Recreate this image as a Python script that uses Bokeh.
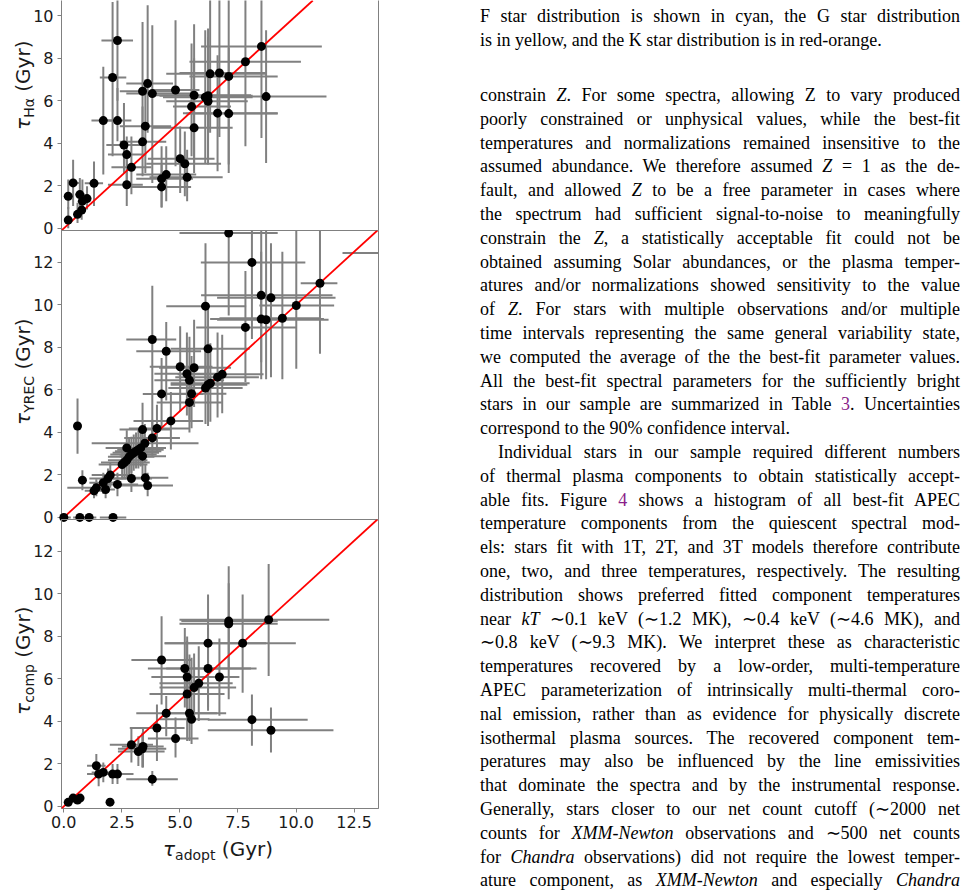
from bokeh.plotting import figure
from bokeh.models import (Range1d, FixedTicker, NumeralTickFormatter, Slope,
                          ColumnDataSource, LinearAxis, Div)
from bokeh.layouts import column, row
from bokeh.embed import file_html
from bokeh.resources import INLINE

# ---------------- data ----------------
# Panel 1: tau_Halpha vs tau_adopt
ha_x = [0.19, 0.19, 0.40, 0.59, 0.69, 0.77, 0.80, 1.00, 1.30, 1.70, 2.10, 2.31, 2.31, 2.59, 2.71, 2.71, 2.91,
        3.39, 3.39, 3.51, 3.61, 3.81, 4.21, 4.21, 4.41, 4.81, 5.01, 5.21, 5.31, 5.50, 5.61, 5.61, 6.09, 6.21,
        6.21, 6.30, 6.62, 6.70, 7.10, 7.10, 7.82, 8.51, 8.71]
ha_y = [0.39, 1.51, 2.14, 0.66, 1.59, 0.86, 1.28, 1.40, 2.12, 5.07, 7.10, 8.84, 5.07, 3.92, 3.47, 2.05, 2.87,
        4.07, 6.45, 4.81, 6.81, 6.34, 2.33, 1.95, 2.53, 6.51, 3.28, 3.04, 2.40, 5.73, 6.26, 4.73, 6.17, 6.24,
        5.98, 7.27, 5.42, 7.31, 7.15, 5.40, 7.84, 8.56, 6.20]
ha_xlo = [0.05, 0.05, 0.19, 0.45, 0.50, 0.60, 0.60, 0.85, 0.90, 1.19, 1.55, 1.62, 1.83, 1.83, 1.90, 1.90, 2.05,
          2.41, 2.41, 2.41, 2.69, 2.69, 3.12, 2.91, 3.12, 3.84, 3.62, 3.55, 3.69, 4.70, 3.84, 3.84, 4.27, 4.12,
          4.41, 4.41, 5.13, 4.98, 5.41, 5.27, 5.41, 5.91, 6.70]
ha_xhi = [0.33, 0.35, 0.69, 0.75, 0.90, 0.95, 1.00, 1.15, 1.69, 2.19, 2.69, 2.98, 2.91, 3.34, 3.55, 3.40, 3.77,
          4.41, 4.70, 4.62, 4.70, 5.48, 5.56, 5.48, 5.70, 5.84, 6.49, 6.77, 6.84, 7.20, 8.06, 7.27, 8.13, 8.13,
          7.92, 8.71, 9.21, 8.71, 9.21, 9.21, 10.21, 11.11, 11.31]
ha_ylo = [0.00, 0.90, 1.05, 0.25, 0.66, 0.40, 0.73, 0.89, 1.05, 2.53, 3.39, 6.00, 4.10, 2.60, 1.98, 1.05, 1.60,
          2.45, 3.90, 2.60, 4.50, 2.14, 0.97, 1.00, 1.28, 2.92, 1.67, 1.51, 1.28, 3.39, 3.00, 2.60, 3.08, 3.23,
          3.00, 4.50, 2.69, 4.30, 3.00, 2.60, 3.86, 4.25, 3.08]
ha_yhi = [1.00, 2.30, 3.23, 1.20, 2.37, 1.40, 2.30, 1.98, 3.15, 7.60, 10.65, 11.50, 6.60, 5.90, 4.32, 3.39, 4.32,
          5.73, 9.71, 7.00, 10.50, 9.55, 3.86, 3.00, 3.86, 9.79, 4.79, 4.56, 3.70, 8.70, 9.60, 8.00, 9.32, 9.40,
          9.00, 11.00, 8.15, 11.00, 11.00, 8.50, 11.00, 11.50, 9.32]

# Panel 2: tau_YREC vs tau_adopt
yr_x = [0.00, 0.69, 1.09, 2.12, 0.59, 0.80, 1.30, 1.40, 1.70, 1.80, 1.90, 2.00, 2.31, 2.51, 2.61, 2.71, 2.71,
        2.81, 2.91, 2.91, 3.01, 3.11, 3.21, 3.31, 3.39, 3.39, 3.49, 3.51, 3.61, 3.81, 3.81, 4.01, 4.21, 4.41,
        4.61, 5.01, 5.30, 5.41, 5.41, 5.50, 5.61, 6.10, 6.10, 6.21, 6.21, 6.31, 6.62, 6.82, 7.10, 7.82, 8.10,
        8.50, 8.50, 8.71, 8.92, 9.41, 10.01, 11.03, 14.20]
yr_y = [0.00, 0.00, 0.00, 0.00, 4.30, 1.75, 1.25, 1.39, 1.63, 1.31, 1.83, 1.99, 1.55, 2.49, 2.58, 3.27, 2.69,
        2.85, 2.96, 1.83, 3.04, 3.11, 3.18, 3.27, 2.88, 4.13, 3.49, 1.86, 1.50, 8.37, 3.74, 4.18, 5.81, 7.82,
        4.54, 7.09, 6.76, 6.45, 5.41, 5.82, 7.04, 9.94, 6.09, 7.93, 6.24, 6.31, 6.60, 6.73, 13.38, 8.94, 12.00,
        10.45, 9.33, 9.30, 10.33, 9.37, 9.97, 11.02, 12.44]
yr_xlo = [-0.05, 0.40, 0.80, 1.55, 0.59, 0.70, 0.90, 0.15, 1.10, 1.20, 1.10, 1.20, 1.50, 1.50, 1.60, 1.80, 1.90,
          1.90, 2.00, 2.10, 2.10, 2.20, 2.30, 2.40, 2.40, 2.40, 1.20, 2.50, 2.30, 2.69, 2.60, 2.80, 3.40, 3.12,
          3.00, 3.70, 3.90, 3.90, 4.00, 4.10, 4.10, 4.41, 4.50, 4.60, 4.60, 4.60, 4.80, 4.90, 4.98, 5.70, 5.90,
          5.91, 6.30, 6.60, 6.60, 6.70, 8.42, 10.20, 12.00]
yr_xhi = [0.30, 1.00, 1.40, 2.69, 0.59, 0.92, 1.75, 1.90, 2.30, 2.20, 2.70, 2.80, 3.20, 3.60, 3.70, 3.80, 3.60,
          3.90, 4.00, 3.80, 4.10, 4.20, 4.30, 4.40, 4.40, 4.60, 5.80, 4.50, 4.70, 4.84, 5.00, 5.40, 6.00, 5.91,
          6.00, 6.40, 6.80, 6.90, 6.80, 7.00, 7.20, 7.85, 7.70, 8.00, 7.90, 8.00, 8.40, 8.60, 9.21, 10.00, 10.40,
          11.57, 11.20, 11.40, 11.70, 11.00, 11.64, 11.78, 16.00]
yr_ylo = [0.00, 0.00, 0.00, 0.00, 3.00, 1.28, 0.90, 1.00, 1.10, 0.90, 1.30, 1.40, 1.00, 1.80, 1.90, 2.50, 1.90,
          2.00, 2.10, 1.20, 2.20, 2.30, 2.30, 2.40, 2.00, 3.30, 2.60, 1.30, 1.00, 3.55, 2.90, 3.10, 4.20, 5.50,
          3.20, 5.00, 4.80, 4.60, 4.00, 4.20, 5.20, 6.50, 4.40, 6.00, 4.30, 4.50, 4.70, 4.90, 9.50, 6.37, 8.40,
          7.30, 6.50, 6.50, 6.60, 6.50, 7.00, 7.70, 12.44]
yr_yhi = [0.00, 0.00, 0.00, 0.00, 5.59, 2.22, 1.60, 1.80, 2.10, 1.80, 2.30, 2.60, 2.10, 3.20, 3.40, 4.10, 3.50,
          3.70, 3.80, 2.50, 3.90, 4.00, 4.10, 4.20, 3.90, 5.40, 4.40, 2.50, 2.10, 10.90, 4.60, 5.30, 7.50, 9.19,
          5.90, 9.00, 8.70, 8.50, 7.00, 7.60, 9.30, 12.90, 8.00, 9.90, 8.20, 8.20, 8.70, 8.60, 15.00, 11.60, 14.00,
          14.00, 12.50, 13.60, 12.90, 12.50, 13.60, 14.00, 12.44]

# Panel 3: tau_comp vs tau_adopt
cp_x = [0.19, 0.40, 0.59, 0.70, 1.99, 1.40, 1.50, 1.70, 2.10, 2.31, 2.91, 3.21, 3.38, 3.41, 3.81, 4.01, 4.21,
        4.41, 4.81, 5.21, 5.31, 5.31, 5.41, 5.50, 5.61, 5.81, 6.21, 6.21, 6.70, 7.10, 7.10, 7.70, 8.10, 8.82, 8.92]
cp_y = [0.19, 0.39, 0.30, 0.39, 0.20, 1.91, 1.52, 1.60, 1.52, 1.52, 2.90, 2.58, 2.71, 2.82, 1.28, 3.69, 6.89,
        4.38, 3.19, 6.49, 6.09, 5.29, 4.38, 4.10, 5.59, 5.79, 7.68, 6.49, 6.09, 8.72, 8.59, 7.68, 4.08, 8.78, 3.58]
cp_xlo = [0.19, 0.40, 0.59, 0.70, 1.99, 1.00, 1.00, 1.20, 1.80, 1.55, 1.98, 2.33, 2.33, 2.50, 2.69, 2.84, 2.91,
          3.12, 3.62, 3.62, 3.77, 3.69, 4.20, 4.12, 4.12, 4.12, 4.34, 4.41, 4.70, 5.06, 4.98, 4.34, 6.20, 4.98, 6.20]
cp_xhi = [0.19, 0.40, 0.59, 0.70, 1.99, 1.80, 2.98, 2.20, 2.40, 3.00, 3.84, 4.34, 4.41, 4.30, 4.91, 5.20, 5.48,
          6.99, 5.80, 8.06, 7.49, 6.92, 6.60, 6.27, 7.42, 7.27, 8.71, 8.30, 7.56, 9.21, 9.21, 9.99, 10.50, 11.43, 11.61]
cp_ylo = [0.19, 0.39, 0.30, 0.39, 0.20, 1.36, 0.95, 1.13, 1.05, 1.05, 2.07, 1.90, 1.83, 1.83, 0.97, 2.14, 4.80,
          3.30, 2.30, 4.65, 4.40, 3.08, 3.08, 2.93, 4.00, 4.02, 4.65, 4.50, 4.26, 5.04, 6.50, 5.35, 2.85, 6.13, 2.54]
cp_yhi = [0.19, 0.39, 0.30, 0.39, 0.20, 2.46, 2.05, 2.07, 2.00, 2.00, 3.70, 3.30, 3.46, 3.70, 1.67, 4.80, 8.95,
          5.20, 4.18, 8.40, 7.80, 8.00, 7.15, 7.00, 7.20, 7.54, 9.97, 8.40, 7.90, 11.30, 10.50, 9.97, 5.27, 11.41, 4.65]

x_ticks = [0, 2.5, 5, 7.5, 10, 12.5]
y_ticks = [0, 2, 4, 6, 8, 10, 12]
y_label_subs = ["H\u03b1", "YREC", "comp"]
x_label_sub = "adopt"

# ---------------- layout constants ----------------
X_RANGE = (-0.1, 13.55)
Y_RANGE = (-0.1, 13.5)
Y_RANGE_TOP = (-0.1, 10.72)
FRAME_W = 317
LABEL_W = 36          # width of the html column holding the rotated y labels
PLOT_SHIFT = -6       # the (transparent) figures overlap the label column a little
LEFT = 29             # room for ticks + tick labels inside each figure
RIGHT = 102
OVER = 9              # overlap between stacked figures so that boundary "0" labels are not cut

SPINE = "#808080"
TICKTXT = "#1a1a1a"
FONT = "DejaVu Sans"


def panel(frame_h, xs, ys, xlo, xhi, ylo, yhi, yr, bottom_border, margin_top, first, show_x):
    p = figure(frame_width=FRAME_W, frame_height=frame_h,
               x_range=Range1d(*X_RANGE), y_range=Range1d(*yr),
               output_backend="svg", toolbar_location=None,
               min_border_left=LEFT, min_border_right=RIGHT,
               min_border_top=0, min_border_bottom=bottom_border,
               background_fill_color=None, border_fill_color=None,
               margin=(margin_top, 0, 0, 0))
    p.xgrid.visible = False
    p.ygrid.visible = False
    if first:
        p.outline_line_color = None
        ra = LinearAxis(ticker=FixedTicker(ticks=[]), major_tick_out=0, major_tick_in=0,
                        minor_tick_out=0, minor_tick_in=0, major_label_standoff=0,
                        axis_line_color=SPINE, axis_line_width=1)
        p.add_layout(ra, "right")
    else:
        p.outline_line_color = SPINE
        p.outline_line_width = 1

    src = ColumnDataSource(dict(x=xs, y=ys, xlo=xlo, xhi=xhi, ylo=ylo, yhi=yhi))
    p.segment(x0="x", y0="ylo", x1="x", y1="yhi", source=src, line_color="#808080", line_width=2)
    p.segment(x0="xlo", y0="y", x1="xhi", y1="y", source=src, line_color="#808080", line_width=2)
    p.add_layout(Slope(gradient=1, y_intercept=0, line_color="red", line_width=1.8))
    r = p.scatter("x", "y", source=src, size=9, fill_color="black", line_color=None)
    r.level = "overlay"

    ya = p.yaxis[0]
    ya.ticker = FixedTicker(ticks=y_ticks)
    ya.minor_tick_line_color = None
    ya.major_tick_out = 4
    ya.major_tick_in = 0
    ya.major_tick_line_color = SPINE
    ya.axis_line_color = SPINE
    ya.major_label_text_font = FONT
    ya.major_label_text_font_size = "16px"
    ya.major_label_text_color = TICKTXT
    ya.major_label_standoff = 4

    xa = p.xaxis[0]
    if show_x:
        xa.ticker = FixedTicker(ticks=x_ticks)
        xa.formatter = NumeralTickFormatter(format="0.0")
        xa.minor_tick_line_color = None
        xa.major_tick_out = 4
        xa.major_tick_in = 0
        xa.major_tick_line_color = SPINE
        xa.axis_line_color = SPINE
        xa.major_label_text_font = FONT
        xa.major_label_text_font_size = "16px"
        xa.major_label_text_color = TICKTXT
        xa.major_label_standoff = 3
    else:
        xa.visible = False
    return p


p1 = panel(230, ha_x, ha_y, ha_xlo, ha_xhi, ha_ylo, ha_yhi, Y_RANGE_TOP, OVER, 0, True, False)
p2 = panel(289, yr_x, yr_y, yr_xlo, yr_xhi, yr_ylo, yr_yhi, Y_RANGE, OVER, -OVER, False, False)
p3 = panel(289, cp_x, cp_y, cp_xlo, cp_xhi, cp_ylo, cp_yhi, Y_RANGE, 28, -OVER, False, True)

# ---------------- axis labels (tau with subscripts), as html text ----------------
LAB_FONT = "font-family:'DejaVu Sans';font-size:20px;line-height:24px;color:%s;white-space:nowrap;" % TICKTXT
BASE_OFF = 18.9   # baseline offset inside a 24px line box


def tau_label(sub):
    return ('<i>\u03c4</i><span style="font-size:14px;position:relative;top:3.5px;">%s</span> (Gyr)' % sub)


# baseline x and starting y (page pixels) of each rotated y label
ylab_base_x = 29.5
ylab_start_y = [130, 425, 715]
ylab_parts = []
for sub, sy in zip(y_label_subs, ylab_start_y):
    ylab_parts.append(
        '<div style="position:absolute;left:%.1fpx;top:%.1fpx;%stransform-origin:0px %.1fpx;'
        'transform:rotate(-90deg);">%s</div>' % (ylab_base_x, sy - BASE_OFF, LAB_FONT, BASE_OFF, tau_label(sub)))
ylab_div = Div(text='<div style="position:relative;width:%dpx;height:893px;">%s</div>'
               % (LABEL_W, "".join(ylab_parts)), width=LABEL_W, height=893, margin=0)

XLAB_TOP = 836        # page y where the x-label strip begins (below the last figure)
PLOTS_X0 = LABEL_W + PLOT_SHIFT
xlab_left = 163 - PLOTS_X0
xlab_base = 856 - XLAB_TOP
xlab_div = Div(text='<div style="position:relative;width:430px;height:%dpx;">'
               '<div style="position:absolute;left:%.1fpx;top:%.1fpx;%s">%s</div></div>'
               % (893 - XLAB_TOP, xlab_left, xlab_base - BASE_OFF, LAB_FONT, tau_label(x_label_sub)),
               width=430, height=893 - XLAB_TOP, margin=0)

# ---------------- body text on the right ----------------
PURPLE = "#8a1f8a"
caption_lines = [
    ("F star distribution is shown in cyan, the G star distribution", True),
    ("is in yellow, and the K star distribution is in red-orange.", False),
]
para1 = [
    ("constrain <i>Z</i>. For some spectra, allowing Z to vary produced", True),
    ("poorly constrained or unphysical values, while the best-fit", True),
    ("temperatures and normalizations remained insensitive to the", True),
    ("assumed abundance. We therefore assumed <i>Z</i> = 1 as the de-", True),
    ("fault, and allowed <i>Z</i> to be a free parameter in cases where", True),
    ("the spectrum had sufficient signal-to-noise to meaningfully", True),
    ("constrain the <i>Z</i>, a statistically acceptable fit could not be", True),
    ("obtained assuming Solar abundances, or the plasma temper-", True),
    ("atures and/or normalizations showed sensitivity to the value", True),
    ("of <i>Z</i>. For stars with multiple observations and/or multiple", True),
    ("time intervals representing the same general variability state,", True),
    ("we computed the average of the the best-fit parameter values.", True),
    ("All the best-fit spectral parameters for the sufficiently bright", True),
    ("stars in our sample are summarized in Table <span style=\"color:%s\">3</span>. Uncertainties" % PURPLE, True),
    ("correspond to the 90% confidence interval.", False),
]
para2 = [
    ("Individual stars in our sample required different numbers", True),
    ("of thermal plasma components to obtain statistically accept-", True),
    ("able fits. Figure <span style=\"color:%s\">4</span> shows a histogram of all best-fit APEC" % PURPLE, True),
    ("temperature components from the quiescent spectral mod-", True),
    ("els: stars fit with 1T, 2T, and 3T models therefore contribute", True),
    ("one, two, and three temperatures, respectively. The resulting", True),
    ("distribution shows preferred fitted component temperatures", True),
    ("near <i>kT</i> \u223c0.1 keV (\u223c1.2 MK), \u223c0.4 keV (\u223c4.6 MK), and", True),
    ("\u223c0.8 keV (\u223c9.3 MK). We interpret these as characteristic", True),
    ("temperatures recovered by a low-order, multi-temperature", True),
    ("APEC parameterization of intrinsically multi-thermal coro-", True),
    ("nal emission, rather than as evidence for physically discrete", True),
    ("isothermal plasma sources. The recovered component tem-", True),
    ("peratures may also be influenced by the line emissivities", True),
    ("that dominate the spectra and by the instrumental response.", True),
    ("Generally, stars closer to our net count cutoff (\u223c2000 net", True),
    ("counts for <i>XMM-Newton</i> observations and \u223c500 net counts", True),
    ("for <i>Chandra</i> observations) did not require the lowest temper-", True),
    ("ature component, as <i>XMM-Newton</i> and especially <i>Chandra</i>", True),
]

TEXT_W = 480
FS = 18
LH = 24


def line_html(html, baseline, justify, indent=0):
    align = "justify" if justify else "left"
    top = baseline - 18
    return ('<div style="position:absolute;left:%dpx;top:%.1fpx;width:%dpx;height:%dpx;'
            'line-height:%dpx;white-space:nowrap;text-align:%s;text-align-last:%s;">%s</div>'
            % (indent, top, TEXT_W - indent, LH, LH, align, align, html))


parts = []
for k, (t, j) in enumerate(caption_lines):
    parts.append(line_html(t, 22 + 24 * k, j))
for k, (t, j) in enumerate(para1):
    parts.append(line_html(t, 101 + 23.8 * k, j))
for k, (t, j) in enumerate(para2):
    parts.append(line_html(t, 458 + 23.8 * k, j, indent=(18 if k == 0 else 0)))

html = ('<div style="position:relative;width:%dpx;height:893px;font-family:\'Liberation Serif\',serif;'
        'font-size:%dpx;color:#000;">%s</div>' % (TEXT_W, FS, "".join(parts)))
text_div = Div(text=html, width=TEXT_W + 10, height=893, margin=0)

plots = column(p1, p2, p3, xlab_div, spacing=0, margin=(0, 0, 0, PLOT_SHIFT))
layout = row(ylab_div, plots, text_div, spacing=0)

open("out.html", "w").write(file_html(layout, INLINE))
